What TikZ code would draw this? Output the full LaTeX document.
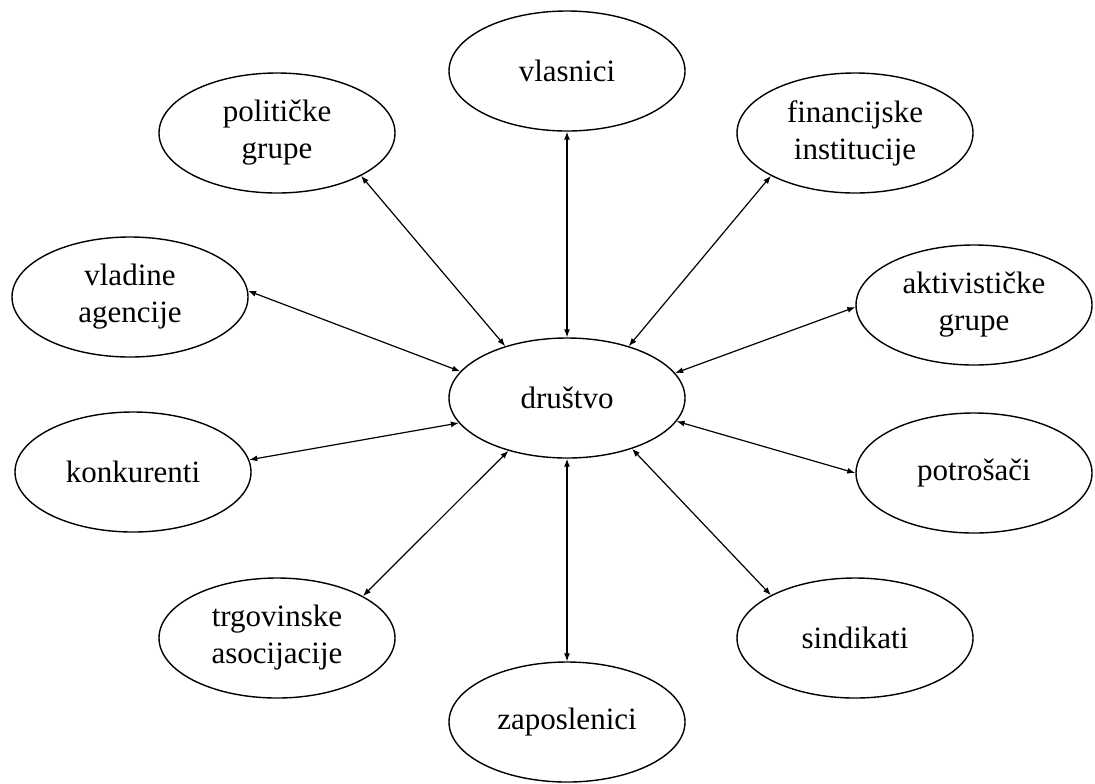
\documentclass[tikz,border=0pt]{standalone}
\usepackage{fontspec}
\setmainfont{Liberation Serif}
\usetikzlibrary{shapes.geometric,arrows.meta}
\begin{document}
\begin{tikzpicture}[x=0.5pt,y=-0.5pt,
  ell/.style={ellipse,draw,line width=0.7pt,inner sep=0pt,minimum width=118pt,minimum height=60pt,align=center,font=\fontsize{15.5}{18.5}\selectfont},
  link/.style={{Latex[length=4pt,width=3pt]}-{Latex[length=4pt,width=3pt]},line width=0.6pt}]
\useasboundingbox (0,0) rectangle (1095,783);
\node[ell] (dr) at (567,398) {društvo};
\node[ell] (vl) at (567,71) {vlasnici};
\node[ell] (po) at (277,133) {političke\\grupe};
\node[ell] (fi) at (855,133) {financijske\\institucije};
\node[ell] (va) at (130,297) {vladine\\agencije};
\node[ell] (ak) at (974,305) {aktivističke\\grupe};
\node[ell] (ko) at (133,472) {konkurenti};
\node[ell] (pt) at (974,473) {potrošači};
\node[ell] (tr) at (277,638) {trgovinske\\asocijacije};
\node[ell] (si) at (855,638) {sindikati};
\node[ell] (za) at (567,722) {zaposlenici};
\draw[link] (vl.270) -- (dr.90);
\draw[link] (po.333) -- (dr.140);
\draw[link] (fi.207) -- (dr.40);
\draw[link] (va.3) -- (dr.166);
\draw[link] (ko.6) -- (dr.193);
\draw[link] (ak.181) -- (dr.13);
\draw[link] (pt.180) -- (dr.348);
\draw[link] (tr.26) -- (dr.222);
\draw[link] (za.90) -- (dr.270);
\draw[link] (si.153) -- (dr.322);
\end{tikzpicture}
\end{document}
